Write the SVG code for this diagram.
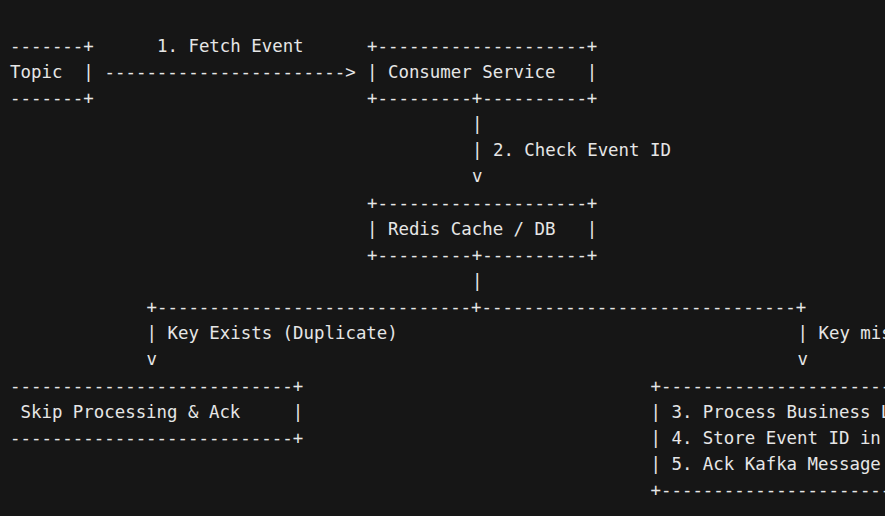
<svg xmlns="http://www.w3.org/2000/svg" width="885" height="516" viewBox="0 0 885 516">
<style>
text{font-family:"DejaVu Sans Mono","Liberation Mono",monospace;font-size:17.4px;fill:#e6e6e6;white-space:pre}
</style>
<rect width="885" height="516" fill="#161616"/>
<g id="kafka-topic" xml:space="preserve">
<text x="10" y="52">-------+</text>
<text x="10" y="78">Topic  |</text>
<text x="10" y="104">-------+</text>
</g>
<g id="consumer-service" xml:space="preserve">
<text x="367" y="52">+--------------------+</text>
<text x="367" y="78">| Consumer Service   |</text>
<text x="367" y="104">+---------+----------+</text>
</g>
<g id="redis" xml:space="preserve">
<text x="367" y="209">+--------------------+</text>
<text x="367" y="235">| Redis Cache / DB   |</text>
<text x="367" y="261">+---------+----------+</text>
</g>
<g id="skip" xml:space="preserve">
<text x="10" y="392">---------------------------+</text>
<text x="10" y="418"> Skip Processing &amp; Ack     |</text>
<text x="10" y="444">---------------------------+</text>
</g>
<g id="process" xml:space="preserve">
<text x="650.5" y="392">+-----------------------</text>
<text x="650.5" y="418">| 3. Process Business L</text>
<text x="650.5" y="444">| 4. Store Event ID in</text>
<text x="650.5" y="470">| 5. Ack Kafka Message</text>
<text x="650.5" y="496">+-----------------------</text>
</g>
<g id="connectors" xml:space="preserve">
<text x="157" y="52">1. Fetch Event</text>
<text x="104.5" y="78">-----------------------&gt;</text>
<text x="472" y="130">|</text>
<text x="472" y="156">| 2. Check Event ID</text>
<text x="472" y="182">v</text>
<text x="472" y="287">|</text>
<text x="146.5" y="313">+------------------------------+------------------------------+</text>
<text x="146.5" y="339">| Key Exists (Duplicate)</text>
<text x="797.5" y="339">| Key mis</text>
<text x="146.5" y="365">v</text>
<text x="797.5" y="365">v</text>
</g>
</svg>
